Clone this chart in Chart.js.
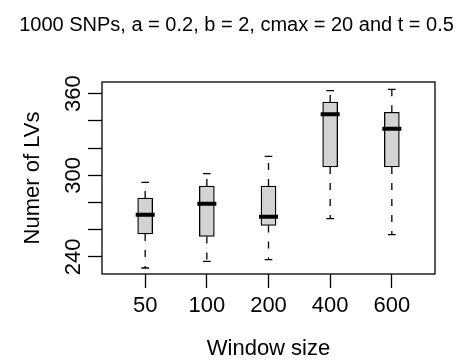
<!DOCTYPE html>
<html>
<head>
<meta charset="utf-8">
<script src="https://cdn.jsdelivr.net/npm/chart.js@4/dist/chart.umd.min.js"></script>
<style>
  html, body { margin: 0; padding: 0; background: #ffffff; }
  #wrap { width: 456px; height: 363px; }
</style>
</head>
<body>
<div id="wrap"><canvas id="c" width="456" height="363"></canvas></div>
<script>
// ---- data ----
const categories = ['50', '100', '200', '400', '600'];
const whiskerLow  = [231.9, 236.8, 238.0, 268.1, 256.4];
const quartile1   = [256.9, 255.1, 263.2, 306.1, 306.1];
const medians     = [271.1, 279.1, 269.6, 344.8, 334.2];
const quartile3   = [283.3, 292.1, 292.1, 353.8, 346.3];
const whiskerHigh = [294.8, 301.2, 313.9, 362.1, 363.1];
const yTicks = [240, 260, 280, 300, 320, 340, 360];
const yTickLabels = [240, 300, 360];
const titleText = '1000 SNPs, a = 0.2, b = 2, cmax = 20 and t = 0.5';
const xTitle = 'Window size';
const yTitle = 'Numer of LVs';

const FONT = '"Liberation Sans", Arial, Helvetica, sans-serif';
const MED_HALF = 0.154;  // half width of median bar (x units)
const CAP_HALF = 0.062;  // half width of whisker caps (x units)

// build helper point lists from the arrays
const boxes = categories.map((c, i) => ({ x: i + 1, y: [quartile1[i], quartile3[i]] }));
const upperWhiskers = [];
const lowerWhiskers = [];
const capPts = [];
const medPts = [];
categories.forEach((c, i) => {
  const x = i + 1;
  upperWhiskers.push({ x, y: quartile3[i] }, { x, y: whiskerHigh[i] }, { x, y: null });
  lowerWhiskers.push({ x, y: quartile1[i] }, { x, y: whiskerLow[i] }, { x, y: null });
  capPts.push({ x: x - CAP_HALF, y: whiskerHigh[i] }, { x: x + CAP_HALF, y: whiskerHigh[i] }, { x, y: null });
  capPts.push({ x: x - CAP_HALF, y: whiskerLow[i] }, { x: x + CAP_HALF, y: whiskerLow[i] }, { x, y: null });
  medPts.push({ x: x - MED_HALF, y: medians[i] }, { x: x + MED_HALF, y: medians[i] }, { x, y: null });
});

const decor = {
  id: 'decor',
  afterDraw(chart) {
    const { ctx, chartArea: a, scales: { y } } = chart;
    ctx.save();
    ctx.strokeStyle = '#000';
    ctx.lineWidth = 1.3;
    ctx.strokeRect(a.left, a.top, a.right - a.left, a.bottom - a.top);
    ctx.fillStyle = '#000';
    ctx.textAlign = 'center';
    ctx.textBaseline = 'alphabetic';
    ctx.font = '20px ' + FONT;
    ctx.fillText(titleText, 236.5, 30.5);
    ctx.font = '22px ' + FONT;
    ctx.fillText(xTitle, (a.left + a.right) / 2, 355);
    yTickLabels.forEach(v => {
      ctx.save();
      ctx.translate(80, y.getPixelForValue(v));
      ctx.rotate(-Math.PI / 2);
      ctx.fillText(String(v), 0, 0);
      ctx.restore();
    });
    ctx.save();
    ctx.translate(39, (a.top + a.bottom) / 2);
    ctx.rotate(-Math.PI / 2);
    ctx.fillText(yTitle, 0, 0);
    ctx.restore();
    ctx.restore();
  }
};

const whiskerStyle = {
  type: 'line', order: 4, spanGaps: false,
  borderColor: '#000', borderWidth: 1.3, borderDash: [7, 9], borderCapStyle: 'butt',
  pointRadius: 0, fill: false, tension: 0
};

new Chart(document.getElementById('c'), {
  type: 'bar',
  data: {
    datasets: [
      {
        type: 'bar', data: boxes, order: 3,
        backgroundColor: '#D3D3D3', borderColor: '#000', borderWidth: 1.3,
        borderSkipped: false, barThickness: 15
      },
      Object.assign({ data: upperWhiskers }, whiskerStyle),
      Object.assign({ data: lowerWhiskers }, whiskerStyle),
      {
        type: 'line', data: capPts, order: 2, spanGaps: false,
        borderColor: '#000', borderWidth: 1.3,
        pointRadius: 0, fill: false, tension: 0
      },
      {
        type: 'line', data: medPts, order: 1, spanGaps: false,
        borderColor: '#000', borderWidth: 4, borderCapStyle: 'butt',
        pointRadius: 0, fill: false, tension: 0
      }
    ]
  },
  options: {
    responsive: false,
    devicePixelRatio: 1,
    animation: false,
    layout: { padding: { left: 0, top: 82, right: 21, bottom: 0 } },
    plugins: { legend: { display: false }, title: { display: false }, tooltip: { enabled: false } },
    scales: {
      x: {
        type: 'linear', min: 0.3, max: 5.7, offset: false,
        afterBuildTicks: s => { s.ticks = categories.map((c, i) => ({ value: i + 1 })); },
        afterFit: s => { s.height = 89; },
        ticks: {
          callback: v => categories[v - 1],
          font: { family: FONT, size: 22 }, color: '#000', padding: 5,
          maxRotation: 0, minRotation: 0, autoSkip: false
        },
        grid: { offset: false, drawOnChartArea: false, drawTicks: true, tickLength: 14, tickColor: '#000', tickWidth: 1.3 },
        border: { display: false }
      },
      y: {
        type: 'linear', min: 227.5, max: 368.5,
        afterBuildTicks: s => { s.ticks = yTicks.map(v => ({ value: v })); },
        afterFit: s => { s.width = 102; },
        ticks: { display: false },
        grid: { offset: false, drawOnChartArea: false, drawTicks: true, tickLength: 14, tickColor: '#000', tickWidth: 1.3 },
        border: { display: false }
      }
    }
  },
  plugins: [decor]
});
</script>
</body>
</html>
